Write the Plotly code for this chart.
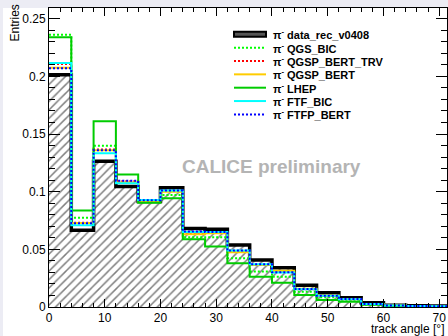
import plotly.graph_objects as go

# ---- data ----
bin_edges = [0, 4, 8, 12, 16, 20, 24, 28, 32, 36, 40, 44, 48, 52, 56, 60, 64, 68, 72]

data_rec = [0.2015, 0.0665, 0.1265, 0.1045, 0.0915, 0.1035, 0.0680, 0.0675, 0.0538, 0.0408,
            0.0341, 0.0188, 0.0124, 0.0081, 0.0037, 0.0015, 0.0010, 0.0008]
qgs_bic = [0.2360, 0.0773, 0.1398, 0.1085, 0.0910, 0.0972, 0.0605, 0.0605, 0.0422, 0.0307,
           0.0263, 0.0133, 0.0085, 0.0060, 0.0022, 0.0010, 0.0007, 0.0005]
qgsp_bert_trv = [0.2107, 0.0730, 0.1365, 0.1090, 0.0920, 0.1005, 0.0640, 0.0645, 0.0480, 0.0365,
                 0.0310, 0.0155, 0.0098, 0.0068, 0.0026, 0.0012, 0.0008, 0.0006]
qgsp_bert = [0.2075, 0.0728, 0.1360, 0.1080, 0.0915, 0.1000, 0.0630, 0.0640, 0.0475, 0.0365,
             0.0315, 0.0158, 0.0100, 0.0068, 0.0027, 0.0012, 0.0008, 0.0006]
lhep = [0.2340, 0.0836, 0.1610, 0.1150, 0.0905, 0.0943, 0.0588, 0.0524, 0.0379, 0.0263,
        0.0211, 0.0104, 0.0060, 0.0046, 0.0020, 0.0010, 0.0007, 0.0005]
ftf_bic = [0.2115, 0.0710, 0.1334, 0.1074, 0.0929, 0.1010, 0.0650, 0.0650, 0.0490, 0.0370,
           0.0300, 0.0155, 0.0097, 0.0068, 0.0026, 0.0012, 0.0008, 0.0006]
ftfp_bert = [0.2070, 0.0726, 0.1360, 0.1094, 0.0925, 0.1010, 0.0654, 0.0650, 0.0489, 0.0370,
             0.0302, 0.0156, 0.0098, 0.0069, 0.0026, 0.0012, 0.0008, 0.0006]

series_names = ["data_rec_v0408", "QGS_BIC", "QGSP_BERT_TRV", "QGSP_BERT", "LHEP", "FTF_BIC", "FTFP_BERT"]
x_ticks = [0, 10, 20, 30, 40, 50, 60, 70]
y_ticks = [0, 0.05, 0.1, 0.15, 0.2, 0.25]

# ---- styles ----
mc_series = [
    (qgs_bic, "QGS_BIC", "#00ff00", "2px,2px"),
    (qgsp_bert_trv, "QGSP_BERT_TRV", "#ff0000", "2px,2px"),
    (qgsp_bert, "QGSP_BERT", "#ffcc00", "solid"),
    (lhep, "LHEP", "#00cc00", "solid"),
    (ftf_bic, "FTF_BIC", "#00ffff", "solid"),
    (ftfp_bert, "FTFP_BERT", "#0000ff", "2px,2px"),
]

centers = [(bin_edges[i] + bin_edges[i + 1]) / 2 for i in range(len(data_rec))]
widths = [bin_edges[i + 1] - bin_edges[i] for i in range(len(data_rec))]

fig = go.Figure()

# hatched data histogram
fig.add_trace(go.Bar(
    x=centers, y=data_rec, width=widths,
    marker=dict(color="white", line=dict(width=0),
                pattern=dict(shape="/", fgcolor="black", bgcolor="white", size=6, solidity=0.25)),
    showlegend=False, hoverinfo="skip"))
# thick data outline
fig.add_trace(go.Scatter(
    x=bin_edges, y=data_rec + [data_rec[-1]], mode="lines",
    line=dict(color="black", width=3.5, shape="hv"), showlegend=False))

for vals, name, col, dash in mc_series:
    fig.add_trace(go.Scatter(
        x=bin_edges, y=vals + [vals[-1]], mode="lines", name=name,
        line=dict(color=col, width=2, shape="hv", dash=dash), showlegend=False))

# ---- geometry (pixels) ----
W, H = 448, 336
L, R, T, B = 49, 447, 8, 307
pw, ph = R - L, B - T

def px(x):
    return (x - L) / pw

def py(y):
    return (B - y) / ph

shapes = [
    # light page-edge strips seen in the reference
    dict(type="rect", xref="paper", yref="paper", x0=px(0), x1=px(W), y0=py(8), y1=py(0),
         fillcolor="#ececf4", line=dict(width=0), layer="below"),
    dict(type="rect", xref="paper", yref="paper", x0=px(0), x1=px(3), y0=py(H), y1=py(0),
         fillcolor="#ececf4", line=dict(width=0), layer="below"),
]
annotations = []

# manual legend
row0, dy = 34.3, 13.35
for i, name in enumerate(series_names):
    yy = py(row0 + dy * i)
    if i == 0:
        shapes.append(dict(type="rect", xref="paper", yref="paper",
                           x0=px(234), x1=px(266), y0=py(row0 + dy * i + 2.5), y1=py(row0 + dy * i - 2.5),
                           fillcolor="#555555", line=dict(color="black", width=2)))
    else:
        _, _, col, dash = mc_series[i - 1]
        shapes.append(dict(type="line", xref="paper", yref="paper",
                           x0=px(234), x1=px(266), y0=yy, y1=yy,
                           line=dict(color=col, width=2, dash=dash)))
    annotations.append(dict(xref="paper", yref="paper", x=px(271), y=yy,
                            xanchor="left", yanchor="middle", showarrow=False,
                            text="<b>\u03c0<sup>-</sup> " + name + "</b>",
                            font=dict(family="Liberation Sans", size=11, color="black")))

annotations.append(dict(xref="paper", yref="paper", x=px(271), y=py(166),
                        xanchor="center", yanchor="middle", showarrow=False,
                        text="<b>CALICE preliminary</b>",
                        font=dict(family="Liberation Sans", size=19, color="#b4b4b4")))
annotations.append(dict(xref="paper", yref="paper", x=px(14), y=py(3),
                        xanchor="center", yanchor="top", showarrow=False, textangle=-90,
                        text="Entries",
                        font=dict(family="Liberation Sans", size=12, color="black")))
annotations.append(dict(xref="paper", yref="paper", x=1.0, y=py(320),
                        xanchor="right", yanchor="top", showarrow=False,
                        text="track angle [\u00b0]",
                        font=dict(family="Liberation Sans", size=12, color="black")))

fig.update_layout(
    width=W, height=H,
    margin=dict(l=L, r=W - R, t=T, b=H - B, pad=0),
    paper_bgcolor="white", plot_bgcolor="white",
    bargap=0, barmode="overlay",
    showlegend=False,
    font=dict(family="Liberation Sans", size=12, color="black"),
    shapes=shapes, annotations=annotations,
    xaxis=dict(range=[0, 71.4], tickvals=x_ticks, ticks="inside", ticklen=8, tickcolor="black",
               showline=True, linecolor="black", linewidth=1, mirror="ticks", showgrid=False,
               zeroline=False, tickfont=dict(size=12, color="black"),
               minor=dict(ticks="inside", ticklen=4, dtick=2, tickcolor="black", showgrid=False)),
    yaxis=dict(range=[0, 0.2593], tickvals=y_ticks, ticks="inside", ticklen=11, tickcolor="black",
               showline=True, linecolor="black", linewidth=1, mirror="ticks", showgrid=False,
               zeroline=False, tickfont=dict(size=12, color="black"),
               minor=dict(ticks="inside", ticklen=6, dtick=0.01, tickcolor="black", showgrid=False)),
)

fig.write_html("out.html")
